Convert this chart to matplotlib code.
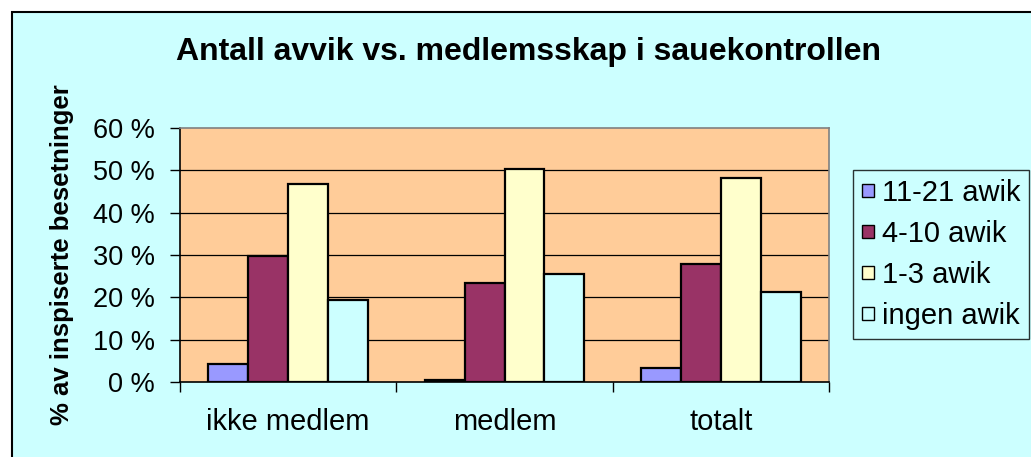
import numpy as np
import matplotlib.pyplot as plt
from matplotlib.patches import Rectangle, Patch

plt.rcParams['font.family'] = ['Liberation Sans', 'DejaVu Sans']

categories = ['ikke medlem', 'medlem', 'totalt']
series = ['11-21 awik', '4-10 awik', '1-3 awik', 'ingen awik']
values = [
    [4.2, 0.5, 3.2],     # 11-21 awik
    [29.7, 23.5, 27.8],  # 4-10 awik
    [46.7, 50.4, 48.1],  # 1-3 awik
    [19.3, 25.4, 21.2],  # ingen awik
]
colors = ['#9999FF', '#993366', '#FFFFCC', '#CCFFFF']
yticks = [0, 10, 20, 30, 40, 50, 60]

W, H = 1031, 457
fig = plt.figure(figsize=(W / 100, H / 100), dpi=100)
fig.patch.set_facecolor('white')

# chart area (cyan with black border, running off the right and bottom)
fig.patches.append(Rectangle((12 / W, -0.1), 1.2, (H - 12) / H + 0.1,
                             transform=fig.transFigure, facecolor='#CCFFFF',
                             edgecolor='black', lw=1.5, zorder=-10))

ax = fig.add_axes([180 / W, (H - 382) / H, 649 / W, 254 / H])
ax.set_facecolor('#FFCC99')

x = np.arange(len(categories))
w = 0.1846
for i, s in enumerate(series):
    ax.bar(x + (i - 1.5) * w, values[i], width=w, color=colors[i],
           edgecolor='black', linewidth=1.6, zorder=3)

ax.set_xlim(-0.5, 2.5)
ax.set_ylim(0, 60)
ax.set_yticks(yticks)
ax.set_yticklabels([f'{t} %' for t in yticks], fontsize=19.5)
for t in yticks[1:-1]:
    ax.axhline(t, color='black', lw=0.9, zorder=1)

ax.set_xticks([-0.5, 0.5, 1.5, 2.5])
ax.set_xticklabels([])
ax.set_xticks(x, minor=True)
ax.set_xticklabels(categories, minor=True, fontsize=21)
ax.tick_params(axis='x', which='minor', length=0, pad=19)
ax.tick_params(axis='x', which='major', length=7, width=1, direction='out')
ax.tick_params(axis='y', length=7, width=1, direction='out', pad=11)

ax.spines['left'].set_color('black')
ax.spines['bottom'].set_color('black')
ax.spines['top'].set_color('#808080')
ax.spines['right'].set_color('#808080')
for sp in ax.spines.values():
    sp.set_linewidth(1.2)

fig.text(529 / W, 1 - 52 / H, 'Antall avvik vs. medlemsskap i sauekontrollen',
         ha='center', va='center', fontsize=23, fontweight='bold')
fig.text(62 / W, 1 - 255 / H, '% av inspiserte besetninger', rotation=90,
         ha='center', va='center', fontsize=18.5, fontweight='bold')

handles = [Patch(facecolor=c, edgecolor='black', lw=1) for c in colors]
leg = fig.legend(handles, series, loc='upper left',
                 bbox_to_anchor=(853 / W, 1 - 170 / H), fontsize=21,
                 frameon=True, fancybox=False, handlelength=0.42,
                 handleheight=0.3, handletextpad=0.28, labelspacing=0.45,
                 borderpad=0.3, borderaxespad=0)
leg.get_frame().set_facecolor('#CCFFFF')
leg.get_frame().set_edgecolor('black')
leg.get_frame().set_linewidth(1)

fig.savefig('out.png', dpi=100)
